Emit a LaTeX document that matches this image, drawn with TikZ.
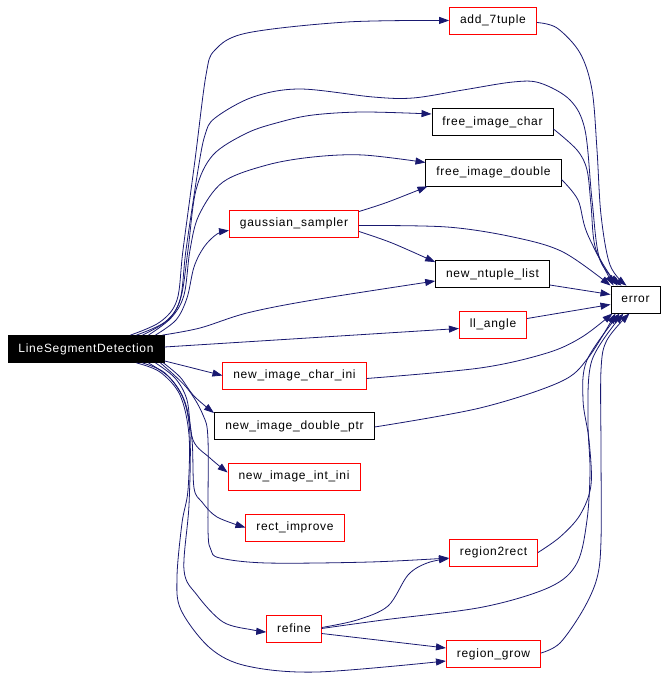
\documentclass[tikz,border=0pt]{standalone}
\usepackage{fontspec}
\newfontfamily\nodefont{Liberation Sans}[LetterSpace=6]
\usetikzlibrary{arrows.meta}
\definecolor{edgeblue}{HTML}{191970}
\begin{document}
\begin{tikzpicture}[x=1pt,y=-1pt,
 box/.style={draw=black, line width=0.8pt, font=\nodefont\fontsize{12}{14}\selectfont, inner xsep=10.5pt, inner ysep=0pt, minimum height=27pt},
 redbox/.style={box, draw=red},
 mainbox/.style={box, fill=black, text=white},
 edge/.style={draw=edgeblue, line width=0.8pt, -{Triangle[length=10pt,width=7pt]}},
 sm/.style={smooth, tension=0.55}
]
\useasboundingbox (0,0) rectangle (668,700);
\node[mainbox] (LSD) at (86,349) {LineSegmentDetection};
\node[redbox] (add) at (493,20.5) {add\_7tuple};
\node[box] (fic) at (492.5,122) {free\_image\_char};
\node[box] (fid) at (493.5,172.5) {free\_image\_double};
\node[redbox] (gs) at (294,223.5) {gaussian\_sampler};
\node[box] (nnl) at (492.5,274) {new\_ntuple\_list};
\node[box] (err) at (635.5,299.5) {error};
\node[redbox] (ll) at (493,324.5) {ll\_angle};
\node[redbox] (nici) at (294.5,375.5) {new\_image\_char\_ini};
\node[box] (nidp) at (294.5,426) {new\_image\_double\_ptr};
\node[redbox] (niii) at (294,476.5) {new\_image\_int\_ini};
\node[redbox] (ri) at (295,527.5) {rect\_improve};
\node[redbox] (r2r) at (493.5,552.5) {region2rect};
\node[redbox] (ref) at (294,628.5) {refine};
\node[redbox] (rg) at (493.5,654) {region\_grow};

% upper fan from LineSegmentDetection
\draw[edge] plot[sm] coordinates {([xshift=-34pt]LSD.north east) (160,322) (177,300) (183,250) (195,160) (206,75) (215,50) (247,33) (347,22) (add.west)};
\draw[edge] plot[sm] coordinates {([xshift=-28pt]LSD.north east) (165,322) (180,300) (186,250) (198,170) (205,135) (215,118) (253,97) (300,89) (373,97) (413,98) (463,90) (513,82) (540,83) (570,100) (585,130) (592,200) (600,260) ([xshift=11pt]err.north west)};
\draw[edge] plot[sm] coordinates {([xshift=-22pt]LSD.north east) (168,320) (181,297) (188,250) (196,190) (213,155) (247,133) (280,122) (313,115) (363,112) ([yshift=8pt]fic.west)};
\draw[edge] plot[sm] coordinates {([xshift=-16pt]LSD.north east) (171,318) (184,295) (190,250) (199,215) (223,182) (267,165) (313,157) (363,155) ([yshift=10pt]fid.west)};
\draw[edge] plot[sm] coordinates {([xshift=-9pt]LSD.north east) (176,320) (187,298) (194,267) (204,247) (217,234) ([yshift=-7pt]gs.west)};
\draw[edge] plot[sm] coordinates {([xshift=-2pt]LSD.north east) (200,328) (247,313) (313,300) ([yshift=-7pt]nnl.west)};
\draw[edge] ([yshift=2pt]LSD.east) -- ([yshift=-4pt]ll.west);
\draw[edge] ([yshift=2pt]LSD.south east) -- (nici.west);

% lower fan from LineSegmentDetection
\draw[edge] plot[sm] coordinates {([xshift=-1pt]LSD.south east) (180,377) (194,396) (214,413)};
\draw[edge] plot[sm] coordinates {([xshift=-9pt]LSD.south east) (175,378) (187,400) (193,440) (210,458) ([yshift=4pt]niii.west)};
\draw[edge] plot[sm] coordinates {([xshift=-16pt]LSD.south east) (170,378) (185,402) (192,440) (194,488) (202,502) (217,517) (ri.west)};
\draw[edge] plot[sm] coordinates {([xshift=-4pt]LSD.south east) (187,388) (203,415) (208,440) (208,530) (211,550) (220,558) (267,563) (370,562) ([yshift=-5.5pt]r2r.west)};
\draw[edge] plot[sm] coordinates {([xshift=-22pt]LSD.south east) (165,373) (183,398) (190,435) (189,505) (184,570) (197,595) (223,622) (253,630) ([yshift=-3.5pt]ref.west)};
\draw[edge] plot[sm] coordinates {([xshift=-28pt]LSD.south east) (160,372) (180,395) (189,435) (188,490) (182,523) (177,577) (181,610) (210,648) (247,666) (317,672) ([yshift=-7pt]rg.west)};

% gaussian_sampler
\draw[edge] plot[sm] coordinates {([yshift=-2pt]gs.east) (447,227) (513,237) (563,252) (err.north west)};
\draw[edge] plot[sm] coordinates {([yshift=12pt]gs.east) (388,202) ([xshift=2pt]fid.south west)};
\draw[edge] plot[sm] coordinates {([yshift=-8pt]gs.east) (392,243) ([yshift=-2pt]nnl.north west)};

% into error
\draw[edge] plot[sm] coordinates {([yshift=-2pt]add.east) (557,28) (580,53) (592,90) (597,150) (601,215) (610,265) ([xshift=16pt]err.north west)};
\draw[edge] plot[sm] coordinates {([yshift=-7pt]fic.east) (577,150) (587,170) (591,205) (596,250) ([xshift=7pt]err.north west)};
\draw[edge] plot[sm] coordinates {([yshift=-7pt]fid.east) (578,200) (587,233) ([xshift=3pt]err.north west)};
\draw[edge] ([yshift=-11pt]nnl.east) -- ([yshift=5pt]err.west);
\draw[edge] ([yshift=6pt]ll.east) -- ([yshift=-5pt]err.west);
\draw[edge] plot[sm] coordinates {([yshift=-3pt]nici.east) (480,368) (547,353) (582,337) ([xshift=2pt]err.south west)};
\draw[edge] plot[sm] coordinates {([yshift=-1pt]nidp.east) (480,408) (560,382) (588,358) ([xshift=5pt]err.south west)};
\draw[edge] plot[sm] coordinates {(r2r.east) (560,537) (580,515) (591,485) (589,440) (583,400) (587,360) ([xshift=9pt]err.south west)};
\draw[edge] plot[sm] coordinates {(ref.east) (383,620) (483,607) (550,587) (577,563) (587,520) (590,470) (588,420) (592,360) ([xshift=13pt]err.south west)};
\draw[edge] plot[sm] coordinates {([yshift=1pt]rg.east) (560,643) (583,610) (597,578) (601,540) (601,450) (601,370) (607,340) ([xshift=19pt]err.south west)};

% refine
\draw[edge] plot[sm] coordinates {([yshift=1pt]ref.east) (357,620) (388,606) (408,575) (427,563) ([yshift=-6pt]r2r.west)};
\draw[edge] ([yshift=-5pt]ref.east) -- ([yshift=6pt]rg.west);
\end{tikzpicture}
\end{document}
